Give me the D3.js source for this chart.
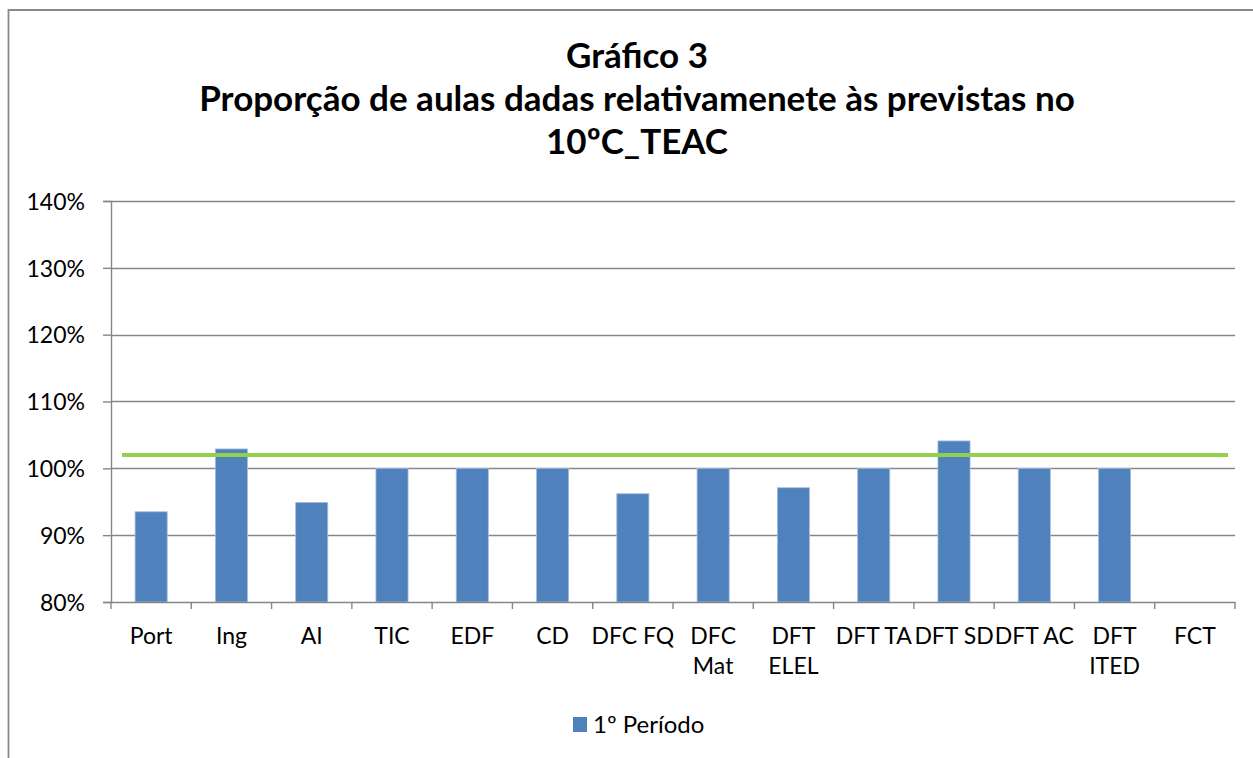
<!DOCTYPE html>
<html>
<head>
<meta charset="utf-8">
<script src="https://cdn.jsdelivr.net/npm/d3@7/dist/d3.min.js"></script>
<style>
  html, body { margin: 0; padding: 0; background: #fff; }
  svg { display: block; }
  text { font-family: Lato, "Open Sans", sans-serif; fill: #000; }
</style>
</head>
<body>
<svg id="chart" width="1253" height="758"></svg>
<script>
// ---- data ----
const categories = ["Port", "Ing", "AI", "TIC", "EDF", "CD", "DFC FQ", "DFC Mat", "DFT ELEL", "DFT TA", "DFT SD", "DFT AC", "DFT ITED", "FCT"];
const wrappedCategories = ["DFC Mat", "DFT ELEL", "DFT ITED"];
const values1P = [0.935, 1.029, 0.949, 1.0, 1.0, 1.0, 0.962, 1.0, 0.971, 1.0, 1.041, 1.0, 1.0, 0];
const seriesName = "1º Período";
const referenceValue = 1.02;
const yTicks = [0.8, 0.9, 1.0, 1.1, 1.2, 1.3, 1.4];
const titleLines = ["Gráfico 3", "Proporção de aulas dadas relativamenete às previstas no", "10ºC_TEAC"];

// ---- layout ----
const W = 1253, H = 758;
const plot = { left: 111, right: 1235, top: 201, bottom: 602 };
const gridColor = "#868686";
const barColor = "#4F81BD";

const svg = d3.select("#chart");
svg.append("rect").attr("width", W).attr("height", H).attr("fill", "#fff");

// outer chart border
svg.append("path")
  .attr("d", `M8.5,${H} V10 H${W}`)
  .attr("fill", "none").attr("stroke", "#898989").attr("stroke-width", 1.8);

// title
svg.append("g").selectAll("text").data(titleLines).join("text")
  .attr("x", 637)
  .attr("y", (d, i) => 68 + i * 43)
  .attr("text-anchor", "middle")
  .attr("font-weight", "bold")
  .attr("font-size", 35)
  .text(d => d);

const x = d3.scaleBand().domain(categories).range([plot.left, plot.right]).padding(0);
const y = d3.scaleLinear().domain([0.8, 1.4]).range([plot.bottom, plot.top]);

// gridlines
svg.append("g").selectAll("line").data(yTicks.slice(1)).join("line")
  .attr("x1", plot.left).attr("x2", plot.right)
  .attr("y1", d => Math.round(y(d)) + 0.5).attr("y2", d => Math.round(y(d)) + 0.5)
  .attr("stroke", gridColor).attr("stroke-width", 1.4);

// y axis
const yAxis = d3.axisLeft(y).tickValues(yTicks).tickFormat(d3.format(".0%")).tickSize(8).tickPadding(18);
const gy = svg.append("g").attr("transform", `translate(${plot.left},0)`).call(yAxis);
gy.select(".domain").attr("stroke", gridColor).attr("stroke-width", 1.4);
gy.selectAll(".tick line").attr("stroke", gridColor).attr("stroke-width", 1.4);
gy.selectAll(".tick text").attr("font-size", 23).attr("font-family", "Lato, sans-serif").attr("fill", "#000").attr("dy", "0.36em");

// bars
svg.append("g").selectAll("rect")
  .data(categories.map((c, i) => ({ c, v: values1P[i] })).filter(d => d.v > 0.8))
  .join("rect")
  .attr("x", d => x(d.c) + x.bandwidth() * 0.3)
  .attr("width", x.bandwidth() * 0.4)
  .attr("y", d => y(d.v))
  .attr("height", d => y(0.8) - y(d.v))
  .attr("fill", barColor)
  .attr("stroke", "#a7bedd").attr("stroke-width", 0.8);

// x axis
const xAxis = d3.axisBottom(x).tickSize(0).tickFormat("");
const gx = svg.append("g").attr("transform", `translate(0,${plot.bottom})`).call(xAxis);
gx.select(".domain").attr("stroke", gridColor).attr("stroke-width", 1.4);
// ticks at band boundaries
const boundaries = categories.map(c => x(c)).concat([x.range()[1]]);
svg.append("g").selectAll("line").data(boundaries).join("line")
  .attr("x1", d => d).attr("x2", d => d)
  .attr("y1", plot.bottom).attr("y2", plot.bottom + 7)
  .attr("stroke", gridColor).attr("stroke-width", 1.4);

// category labels
const lab = svg.append("g").selectAll("text").data(categories).join("text")
  .attr("text-anchor", "middle")
  .attr("font-size", 23)
  .attr("x", d => x(d) + x.bandwidth() / 2)
  .attr("y", 644);
lab.each(function(d) {
  const lines = wrappedCategories.includes(d) ? d.split(" ") : [d];
  d3.select(this).selectAll("tspan").data(lines).join("tspan")
    .attr("x", x(d) + x.bandwidth() / 2)
    .attr("dy", (l, i) => i === 0 ? 0 : 30)
    .text(l => l);
});

// reference line
svg.append("line")
  .attr("x1", x.range()[0] + 11).attr("x2", x.range()[1] - 7)
  .attr("y1", y(referenceValue)).attr("y2", y(referenceValue))
  .attr("stroke", "#92D050").attr("stroke-width", 4);

// legend
const lg = svg.append("g");
lg.append("rect").attr("x", 573).attr("y", 717).attr("width", 14).attr("height", 15).attr("fill", barColor);
lg.append("text").attr("x", 593).attr("y", 733).attr("font-size", 24).text(seriesName);
</script>
</body>
</html>
